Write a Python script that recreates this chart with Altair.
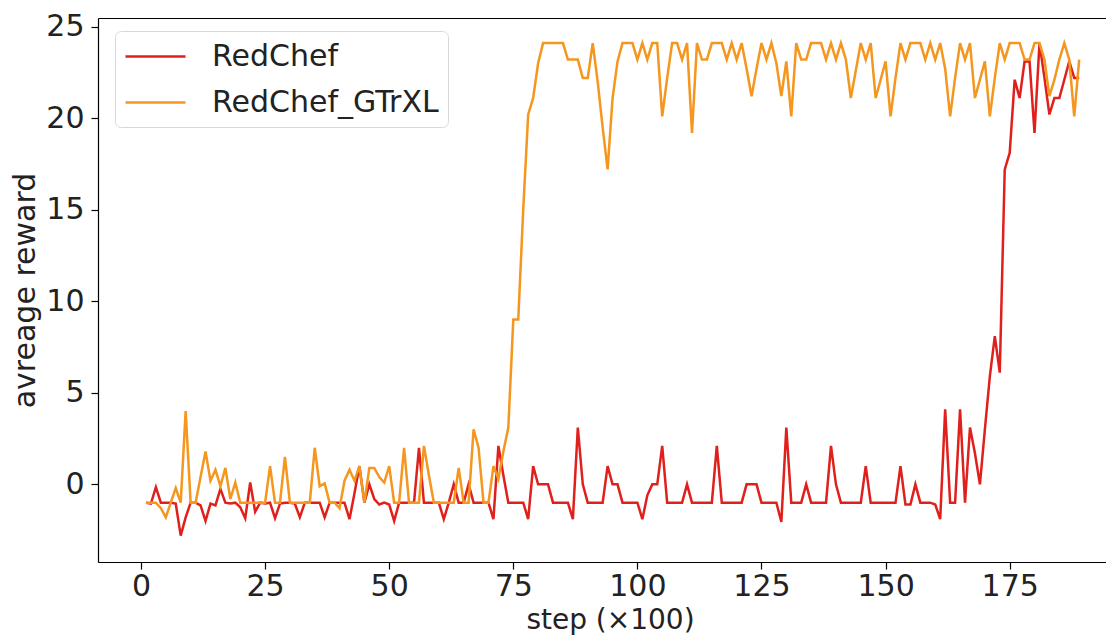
import altair as alt
import pandas as pd

steps = list(range(1, 190))

redchef = [
    -1, -1.05, -0.15, -1, -1, -1, -1.05, -2.8, -1.8, -1,
    -1, -1.15, -2, -1.05, -1.15, -0.25, -1, -1.05, -1, -1.25,
    -1.85, 0.1, -1.5, -1, -1.05, -1, -1.85, -1.05, -1, -1,
    -1.05, -1.8, -1, -1, -1, -1, -1.8, -1, -1, -1,
    -1, -1.9, -0.5, 1.0, -1, 0, -0.8, -1.1, -1, -1.1,
    -2, -1, -1, -1, -1, 2.0, -1, -1, -1, -1,
    -1.9, -1, 0, -1, -1, 0, -1, -1, -1, -1,
    -1.9, 2.1, 0.5, -1, -1, -1, -1, -1.9, 1.0, 0,
    0, 0, -1, -1, -1, -1, -1.9, 3.1, 0, -1,
    -1, -1, -1, 1.0, 0, 0, -1, -1, -1, -1,
    -1.9, -0.6, 0, 0, 2.1, -1, -1, -1, -1, 0,
    -1, -1, -1, -1, -1, 2.1, -1, -1, -1, -1,
    -1, 0, 0, 0, -1, -1, -1, -1, -2.05, 3.1,
    -1, -1, -1, 0, -1, -1, -1, -1, 2.1, 0,
    -1, -1, -1, -1, -1, 1.0, -1, -1, -1, -1,
    -1, -1, 1.0, -1.1, -1.1, 0, -1, -1, -1, -1.1,
    -1.9, 4.1, -1, -1, 4.1, -1, 3.1, 1.7, 0, 3.0,
    5.9, 8.1, 6.1, 17.2, 18.1, 22.1, 21.1, 23.1, 23.1, 19.2,
    24.1, 22.2, 20.2, 21.1, 21.1, 22.1, 23.1, 22.2, 22.2,
]

redchef_gtrxl = [
    -1, -1, -1, -1.3, -1.8, -1, -0.2, -1, 4.0, -1,
    -1, 0.4, 1.8, 0.2, 0.8, -0.1, 0.9, -0.8, 0.1, -1,
    -1, -1, -1, -1, -1, 1.0, -1, -1, 1.5, -1,
    -1, -1, -1, -1, 2.0, -0.1, 0.05, -1, -1, -1.3,
    0.2, 0.8, 0.2, 1.0, -1, 0.9, 0.9, 0.4, 0.1, 1.0,
    -1, -1, 2.0, -1, -1, -1, 2.1, 0.5, -1, -1,
    -1, -1, -1, 0.9, -1, -1, 3.0, 2.0, -1, -1,
    1.0, 0.3, 1.8, 3.1, 9.0, 9.0, 15.0, 20.2, 21.1, 23.0,
    24.1, 24.1, 24.1, 24.1, 24.1, 23.2, 23.2, 23.2, 22.2, 22.2,
    24.1, 22.0, 19.5, 17.2, 21.1, 23.1, 24.1, 24.1, 24.1, 23.2,
    24.1, 23.2, 24.1, 24.1, 20.1, 22.2, 24.1, 24.1, 23.2, 24.1,
    19.2, 24.1, 23.2, 23.2, 24.1, 24.1, 24.1, 23.2, 24.1, 23.2,
    24.1, 22.7, 21.2, 22.7, 24.1, 23.2, 24.1, 23.0, 21.2, 23.1,
    20.1, 24.1, 23.2, 23.2, 24.1, 24.1, 24.1, 23.2, 24.1, 23.2,
    24.1, 23.2, 21.1, 22.6, 24.1, 23.2, 24.1, 21.1, 22.1, 23.1,
    20.1, 22.2, 24.1, 23.2, 24.1, 24.1, 24.1, 23.2, 24.1, 23.2,
    24.1, 22.7, 20.1, 22.2, 24.1, 23.2, 24.1, 21.1, 22.1, 23.1,
    20.1, 22.2, 24.1, 23.2, 24.1, 24.1, 24.1, 23.2, 23.2, 24.1,
    24.1, 23.2, 21.2, 22.1, 23.2, 24.1, 23.2, 20.1, 23.2,
]

series_names = ["RedChef", "RedChef_GTrXL"]
series_colors = ["#e0201c", "#f5961e"]
x_ticks = [0, 25, 50, 75, 100, 125, 150, 175]
y_ticks = [0, 5, 10, 15, 20, 25]

df = pd.DataFrame({
    "step": steps + steps,
    "reward": redchef + redchef_gtrxl,
    "series": [series_names[0]] * len(steps) + [series_names[1]] * len(steps),
})

FONT = "DejaVu Sans"
x_scale = alt.Scale(domain=[-8.66, 194.4], nice=False, zero=False)
y_scale = alt.Scale(domain=[-4.24, 25.47], nice=False, zero=False)

lines = alt.Chart(df).mark_line(strokeWidth=2.5).encode(
    x=alt.X(
        "step:Q",
        scale=x_scale,
        axis=alt.Axis(values=x_ticks, title="step (×100)", titleX=512,
                      titlePadding=5, labelPadding=2, titleFontSize=28),
    ),
    y=alt.Y(
        "reward:Q",
        scale=y_scale,
        axis=alt.Axis(values=y_ticks, title="avreage reward",
                      titlePadding=5, labelPadding=7),
    ),
    color=alt.Color(
        "series:N",
        scale=alt.Scale(domain=series_names, range=series_colors),
        legend=alt.Legend(
            title=None, orient="none", legendX=17, legendY=13,
            symbolType="M-2,0H2", symbolSize=900, symbolStrokeWidth=2.5,
            symbolOffset=15,
            labelFontSize=30, labelFont=FONT, labelColor="#222222",
            labelOffset=40, rowPadding=14, labelLimit=0,
            padding=9, strokeColor="#d8d8d8", cornerRadius=6,
            fillColor="rgba(255,255,255,0.8)",
        ),
    ),
)

top_spine = alt.Chart(df).mark_point(opacity=0).encode(
    x=alt.X("step:Q", scale=x_scale,
            axis=alt.Axis(orient="top", labels=False, ticks=False, title=None,
                          domain=True)),
)

chart = alt.layer(lines, top_spine).resolve_axis(x="independent").properties(
    width=1008,
    height=544,
    autosize=alt.AutoSizeParams(type="none"),
    padding={"left": 90, "top": 10, "right": 0, "bottom": 74},
).configure_view(
    stroke=None
).configure_axis(
    labelFont=FONT, titleFont=FONT, labelFontSize=30, titleFontSize=30,
    labelColor="#222222", titleColor="#222222", titleFontWeight="normal",
    tickColor="black", tickSize=7, tickWidth=1.2, domainColor="black",
    domainWidth=1.2, grid=False,
)

chart.save("out.html", embed_options={"renderer": "svg", "actions": False})
